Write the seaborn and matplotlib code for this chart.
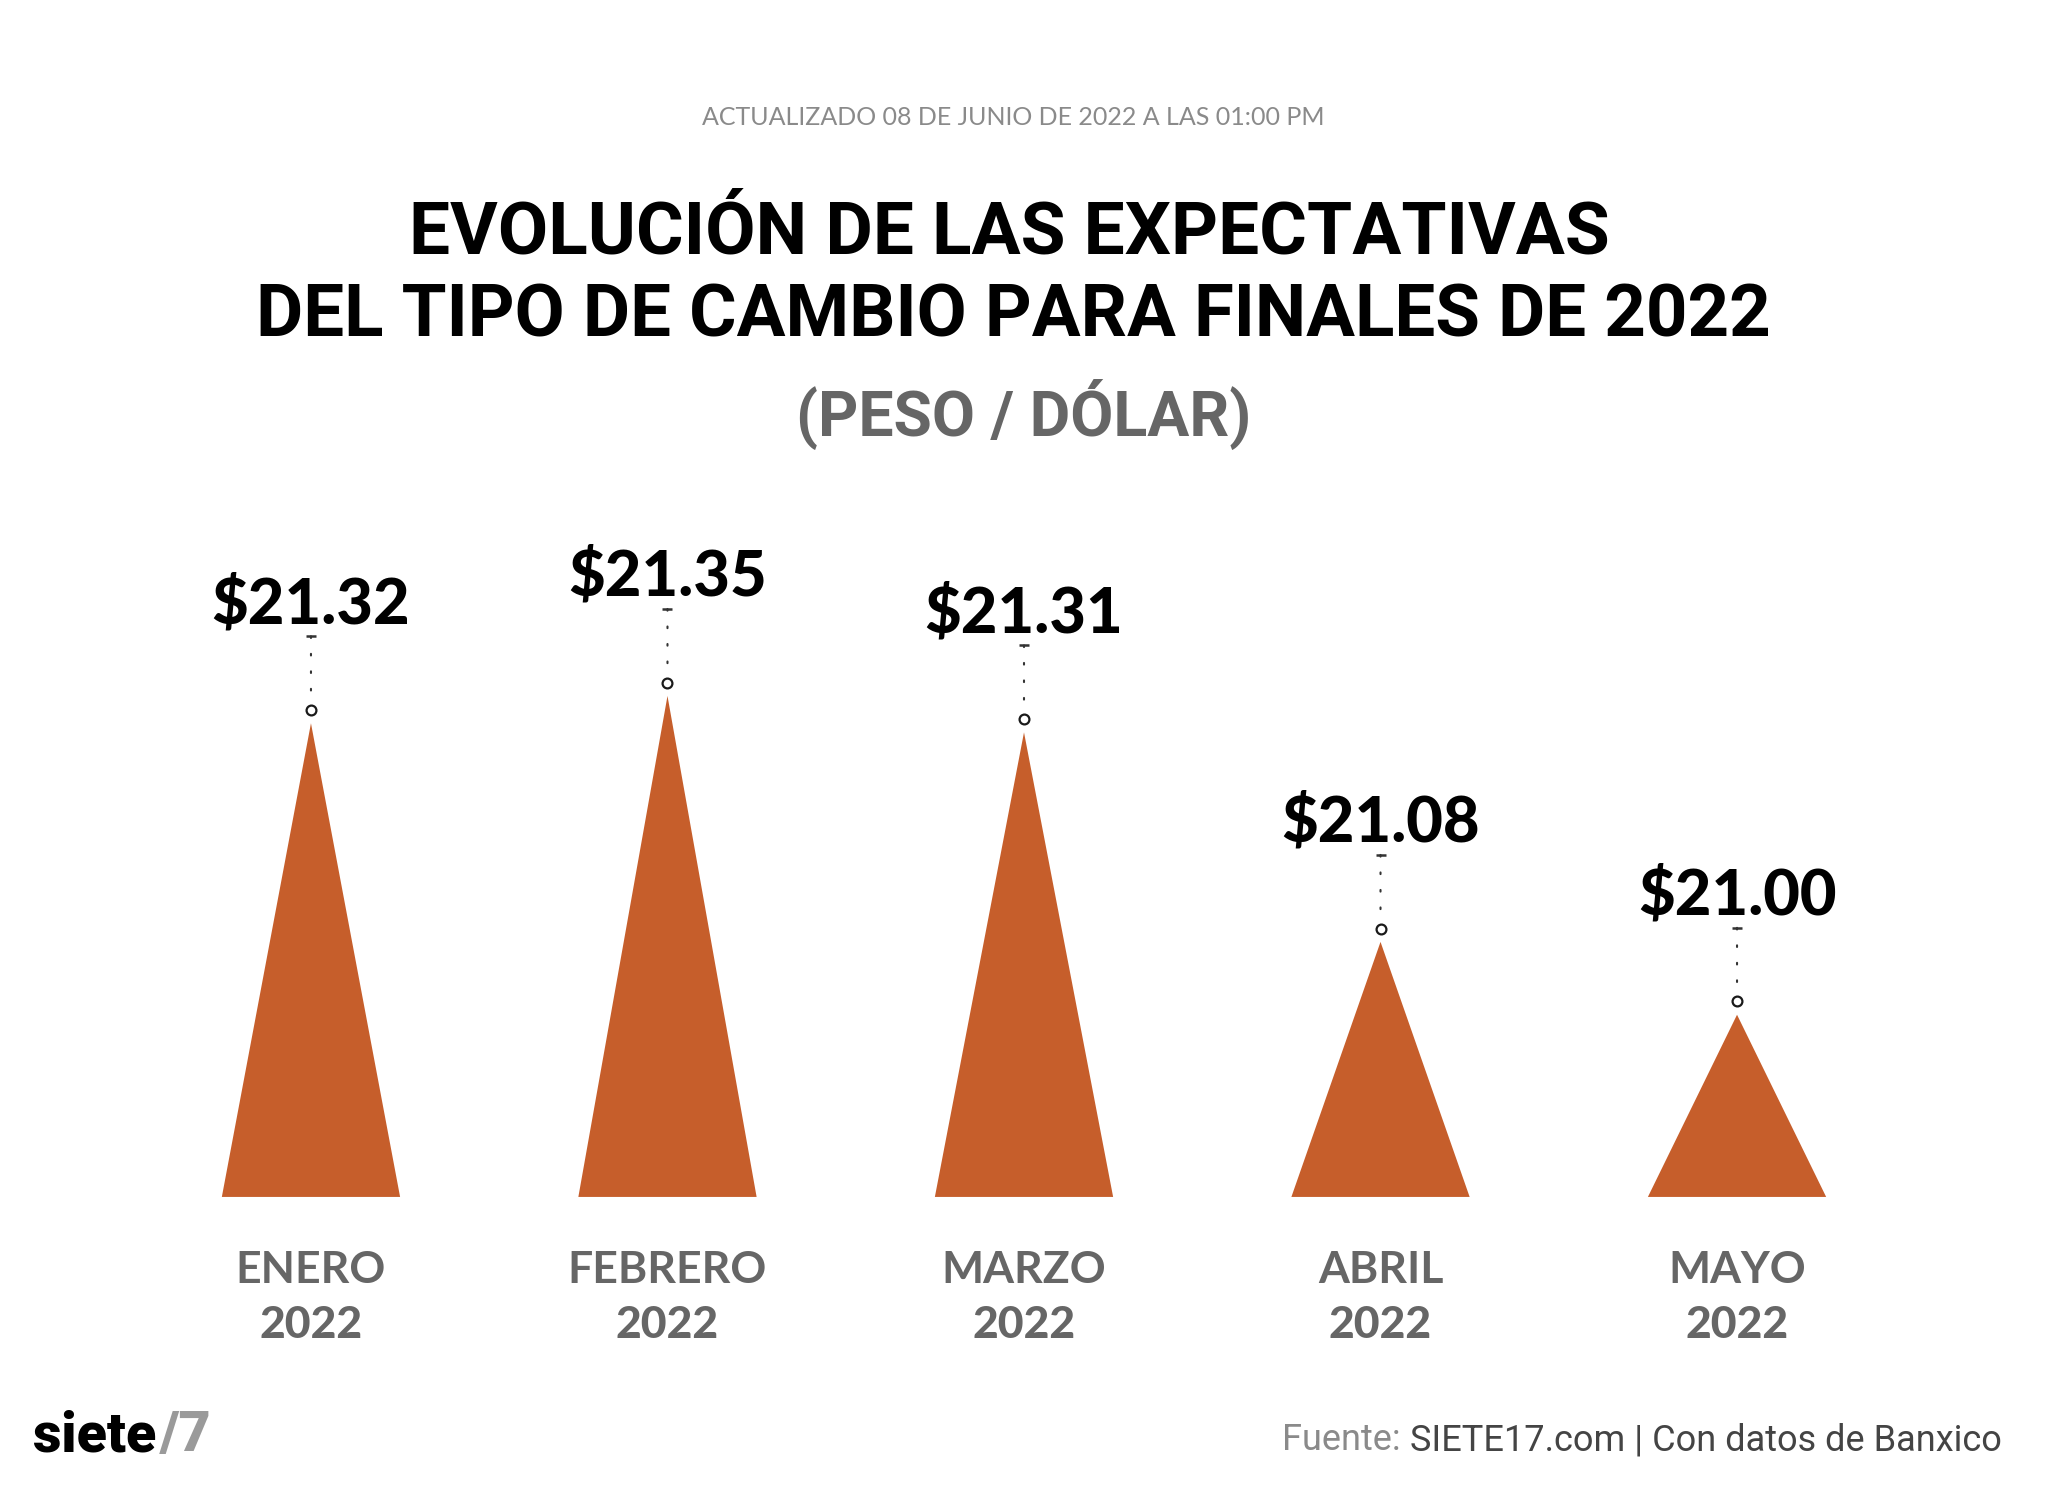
import numpy as np
import pandas as pd
import matplotlib
matplotlib.use("Agg")
import matplotlib.pyplot as plt
from matplotlib.transforms import offset_copy
import seaborn as sns

# datos: expectativa del tipo de cambio para cierre de 2022 (peso / dolar)
meses = ["ENERO", "FEBRERO", "MARZO", "ABRIL", "MAYO"]
anios = ["2022", "2022", "2022", "2022", "2022"]
tipo_cambio = [21.32, 21.35, 21.31, 21.08, 21.00]
etiquetas = ["$21.32", "$21.35", "$21.31", "$21.08", "$21.00"]

df = pd.DataFrame({"mes": meses, "anio": anios, "valor": tipo_cambio, "etiqueta": etiquetas})
df["pos"] = np.arange(len(df))

sns.set_theme(style="white")
plt.rcParams["font.family"] = ["Lato", "DejaVu Sans"]

naranja = "#C65E2B"
gris = "#666666"
base = 20.80

fig = plt.figure(figsize=(20.48, 14.93), dpi=100)
fig.patch.set_facecolor("white")
ax = fig.add_axes([0.0648, 0.1983, 0.8704, 0.4881])
ax.set_xlim(-0.5, 4.5)
ax.set_ylim(base, 21.60)
ax.axis("off")

# triangulos
for i, v in zip(df["pos"], df["valor"]):
    ax.fill([i - 0.25, i, i + 0.25], [base, v, base], color=naranja, lw=0)

# circulo sobre cada pico
sns.scatterplot(data=df, x="pos", y="valor", ax=ax, s=50, color="white",
                edgecolor="#1a1a1a", linewidth=1.6, legend=False, zorder=5, clip_on=False,
                transform=offset_copy(ax.transData, fig=fig, y=9.6, units="points"))

for i, v, lab in zip(df["pos"], df["valor"], df["etiqueta"]):
    # linea punteada
    ax.annotate("", xy=(i, v), xytext=(i, v),
                xycoords=offset_copy(ax.transData, fig=fig, y=16, units="points"),
                textcoords=offset_copy(ax.transData, fig=fig, y=62.6, units="points"),
                arrowprops=dict(arrowstyle="-", color="#333333", lw=1.5,
                                linestyle=(0, (0.8, 7.6)), shrinkA=0, shrinkB=0))
    ax.plot(i, v, marker="_", ms=7, mew=1.8, color="#333333", clip_on=False,
            transform=offset_copy(ax.transData, fig=fig, y=62.6, units="points"))
    ax.annotate(lab, xy=(i, v), xytext=(0, 72), textcoords="offset points",
                ha="center", va="baseline", fontsize=45.5, fontweight="black", color="black")

for i, m, a in zip(df["pos"], df["mes"], df["anio"]):
    ax.annotate(m, xy=(i, base), xytext=(0, -62), textcoords="offset points",
                ha="center", va="baseline", fontsize=32, fontweight="bold", color=gris)
    ax.annotate(a, xy=(i, base), xytext=(0, -101.5), textcoords="offset points",
                ha="center", va="baseline", fontsize=32, fontweight="black", color=gris)

# textos de cabecera
fig.text(0.4946, 0.9163, "ACTUALIZADO 08 DE JUNIO DE 2022 A LAS 01:00 PM", ha="center",
         va="baseline", fontsize=18, color="#8a8a8a")
fig.text(0.493, 0.8305, "EVOLUCIÓN DE LAS EXPECTATIVAS", ha="center", va="baseline",
         fontsize=52.6, fontweight="bold", color="black", family=["Roboto", "DejaVu Sans"])
fig.text(0.495, 0.7743, "DEL TIPO DE CAMBIO PARA FINALES DE 2022", ha="center", va="baseline",
         fontsize=52.3, fontweight="bold", color="black", family=["Roboto", "DejaVu Sans"])
fig.text(0.5, 0.708, "(PESO / DÓLAR)", ha="center", va="baseline",
         fontsize=45, fontweight="bold", color=gris, family=["Roboto", "DejaVu Sans"])

# pie: fuente y logo
fuente = fig.text(0.9775, 0.0288, "SIETE17.com | Con datos de Banxico", ha="right", va="baseline",
                  fontsize=26, color="#444444", family=["Roboto", "DejaVu Sans"])
fig.canvas.draw()
bb = fuente.get_window_extent()
fig.text((bb.x0 - 9) / fig.bbox.width, 0.0288, "Fuente:", ha="right", va="baseline",
         fontsize=26, color="#8a8a8a", family=["Roboto", "DejaVu Sans"])

logo = fig.text(0.016, 0.028, "siete", ha="left", va="baseline", fontsize=40,
                fontweight="black", color="black", family=["Roboto", "DejaVu Sans"])
fig.canvas.draw()
lb = logo.get_window_extent()
fig.text((lb.x1 + 4) / fig.bbox.width, 0.028, "/7", ha="left", va="baseline", fontsize=40,
         fontweight="black", color="#9a9a9a", family=["Roboto", "DejaVu Sans"])

fig.savefig("out.png", dpi=100, facecolor="white")
plt.close()
